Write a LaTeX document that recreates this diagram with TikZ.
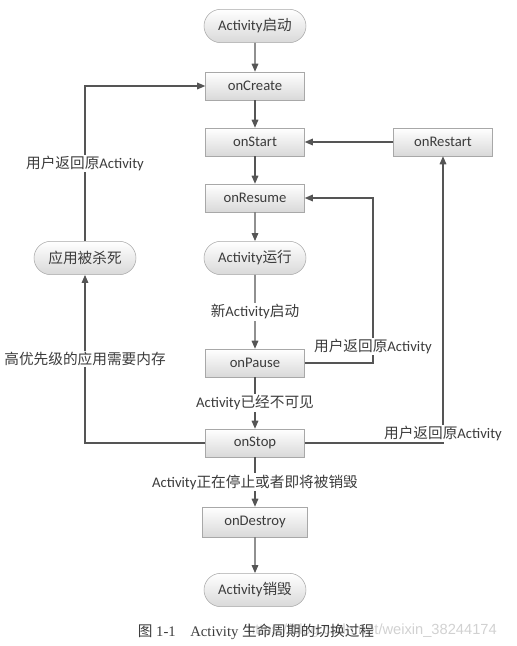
\documentclass[tikz,border=0pt]{standalone}
\usepackage{fontspec}
\setmainfont{Carlito}
\newfontfamily\cjk{Noto Sans CJK SC}
\newfontfamily\capfont{Liberation Serif}
\newfontfamily\wmfont{Liberation Sans}
\usetikzlibrary{arrows.meta,shapes.misc}
\definecolor{linegray}{HTML}{555555}
\definecolor{boxline}{HTML}{A8A8A8}
\definecolor{txtgray}{HTML}{3C3C3C}
\tikzset{
  box/.style={draw=boxline, top color=white, bottom color=black!15,
    minimum width=74.25pt, minimum height=21pt, inner sep=0pt,
    text=txtgray, font=\fontsize{11}{13}\selectfont},
  pill/.style={box, rounded rectangle, minimum width=76.5pt, minimum height=25pt},
  lbl/.style={fill=white, inner sep=1pt, text=txtgray, font=\fontsize{11}{13}\selectfont},
  flow/.style={draw=linegray, line width=0.8pt, -{Triangle[length=6pt,width=5pt]}},
}
\begin{document}
\begin{tikzpicture}[x=0.75pt,y=-0.75pt]
      \useasboundingbox (0,0) rectangle (517,646);
      \draw
        (255,26) node[pill] (start){Activity{\cjk 启动}}
        (255,86) node[box] (create){onCreate}
        (255,142) node[box] (startm){onStart}
        (443,142) node[box] (restart){onRestart}
        (255,198) node[box] (resume){onResume}
        (255,258) node[pill] (running){Activity{\cjk 运行}}
        (85,258) node[pill] (killed){\cjk 应用被杀死}
        (255,363) node[box] (pause){onPause}
        (255,443) node[box] (stop){onStop}
        (255,522) node[box, minimum width=78.75pt, minimum height=22.5pt] (destroy){onDestroy}
        (255,590) node[pill] (destroyed){Activity{\cjk 销毁}};
      \coordinate (back) at (373,363);
      \begin{scope}[flow]
        \draw (start) to (create);
        \draw (create) to (startm);
        \draw (startm) to (resume);
        \draw (resume) to (running);
        \draw (running) to node[lbl]{{\cjk 新}Activity{\cjk 启动}} (pause);
        \draw (pause) to node[lbl]{Activity{\cjk 已经不可见}} (stop);
        \draw (stop) to node[lbl]{Activity{\cjk 正在停止或者即将被销毁}} (destroy);
        \draw (destroy) to (destroyed);
        \draw (restart) to (startm);
        \draw (stop.west) -| node[lbl, pos=0.75]{\cjk 高优先级的应用需要内存} (killed.south);
        \draw (killed.north) |- node[lbl, pos=0.25]{{\cjk 用户返回原}Activity} (create.west);
        \draw (pause.east) -- (back) |- node[lbl, pos=0.05]{{\cjk 用户返回原}Activity} (resume.east);
        \draw (stop.east) -| node[lbl, pos=0.5, anchor=south]{{\cjk 用户返回原}Activity} (restart.south);
      \end{scope}
      \node[text=black!18, font=\wmfont\fontsize{11}{13}\selectfont] (mark) at (372,631) {https://blog.csdn.net/weixin\_38244174};
      \node[text=txtgray, font=\capfont\fontsize{11}{13}\selectfont] (caption) at (256,632)
        {{\cjk 图}~1-1\quad Activity~{\cjk 生命周期的切换过程}};
    \end{tikzpicture}
\end{document}
